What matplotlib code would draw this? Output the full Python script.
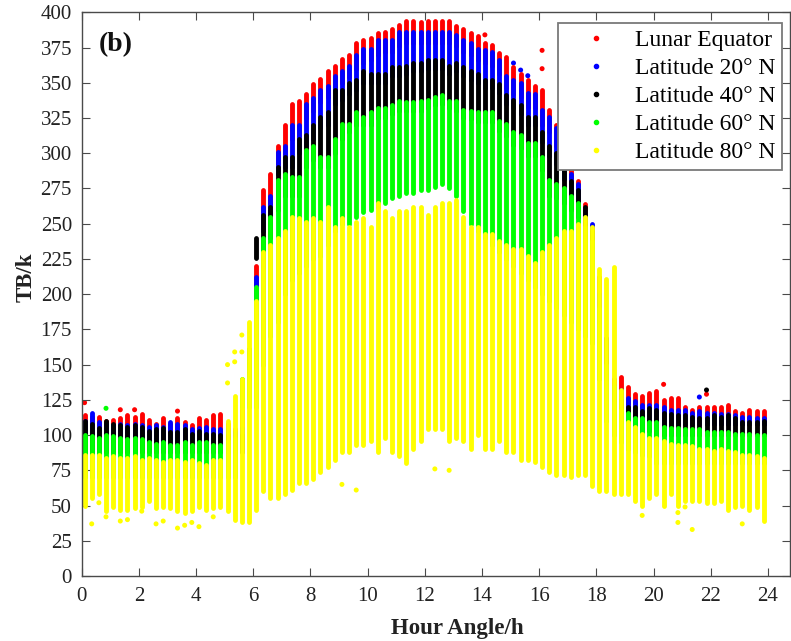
import numpy as np
import matplotlib
matplotlib.use("Agg")
import matplotlib.pyplot as plt
from matplotlib.lines import Line2D

plt.rcParams["font.family"] = ["Liberation Serif", "DejaVu Serif"]

# Hour-angle sampling grid (one column of samples every 0.25 h)
hour = np.round(0.1 + 0.25 * np.arange(96), 2)

labels = ["Lunar Equator", "Latitude 20° N", "Latitude 40° N",
          "Latitude 60° N", "Latitude 80° N"]
colors = ["#ff0000", "#0000ff", "#000000", "#00ff00", "#ffff00"]

# Brightness temperature range (K) per hour-angle column for each latitude
eq_max = [114, 113, 113, 110, 111, 112, 114, 113,
          115, 111, 108, 112, 108, 112, 109, 107,
          112, 111, 114, 115, 108, 104, 118, 161,
          220, 274, 285, 305, 320, 335, 337, 342,
          349, 353, 358, 362, 367, 370, 378, 380,
          382, 385, 386, 388, 391, 394, 394, 393,
          394, 394, 394, 394, 390, 388, 385, 383,
          378, 377, 371, 368, 361, 356, 352, 348,
          345, 331, 320, 300, 290, 280, 264, 246,
          212, 155, 140, 141, 134, 129, 128, 130,
          131, 125, 126, 126, 120, 118, 120, 120,
          120, 120, 121, 117, 116, 118, 117, 117]
eq_min = [100, 100, 100, 100, 100, 100, 100, 100,
          100, 100, 100, 100, 100, 100, 100, 100,
          100, 100, 100, 100, 100, 100, 100, 145,
          205, 255, 262, 292, 298, 310, 312, 325,
          330, 336, 340, 346, 350, 354, 360, 364,
          366, 370, 372, 372, 376, 378, 378, 378,
          378, 378, 378, 378, 376, 372, 370, 366,
          364, 362, 356, 346, 342, 340, 333, 332,
          320, 315, 305, 290, 275, 268, 245, 238,
          180, 140, 125, 110, 110, 108, 108, 108,
          108, 108, 108, 108, 108, 108, 108, 108,
          108, 108, 108, 108, 108, 108, 108, 108]

n20_max = [110, 116, 109, 108, 107, 108, 107, 108,
           107, 106, 107, 106, 109, 108, 107, 104,
           105, 106, 104, 104, 104, 102, 105, 157,
           212, 262, 270, 301, 305, 320, 320, 335,
           339, 345, 348, 355, 358, 362, 370, 374,
           374, 380, 380, 380, 386, 386, 386, 386,
           386, 386, 386, 386, 384, 380, 378, 374,
           373, 372, 366, 355, 352, 350, 343, 342,
           331, 326, 318, 300, 285, 278, 256, 250,
           200, 150, 135, 132, 126, 124, 121, 121,
           121, 120, 118, 118, 118, 116, 117, 116,
           116, 115, 115, 114, 113, 113, 112, 112]
n20_min = [96, 96, 96, 96, 96, 96, 96, 96,
           96, 96, 96, 96, 96, 96, 96, 96,
           96, 96, 96, 96, 96, 96, 96, 140,
           195, 245, 255, 285, 290, 290, 300, 305,
           310, 318, 320, 335, 338, 342, 345, 350,
           350, 350, 350, 355, 355, 356, 358, 358,
           360, 360, 360, 356, 358, 355, 352, 350,
           346, 346, 343, 335, 332, 328, 320, 320,
           308, 298, 292, 282, 272, 266, 255, 240,
           185, 140, 128, 115, 112, 112, 110, 110,
           108, 108, 108, 108, 108, 108, 108, 108,
           108, 108, 108, 108, 108, 108, 108, 108]

n40_max = [110, 108, 105, 110, 108, 107, 106, 107,
           106, 103, 104, 105, 102, 102, 104, 101,
           103, 101, 101, 100, 100, 98, 100, 150,
           240, 256, 262, 290, 297, 297, 310, 313,
           320, 326, 329, 345, 345, 350, 352, 358,
           356, 356, 356, 361, 361, 362, 364, 364,
           366, 366, 366, 362, 364, 361, 358, 356,
           352, 352, 349, 341, 338, 334, 326, 326,
           315, 305, 300, 290, 280, 274, 262, 245,
           190, 169, 135, 125, 120, 120, 117, 119,
           118, 116, 115, 114, 114, 113, 112, 112,
           114, 113, 114, 112, 109, 109, 109, 110]
n40_min = [88, 88, 88, 88, 88, 88, 88, 88,
           88, 88, 88, 88, 88, 88, 88, 88,
           88, 88, 88, 88, 88, 88, 88, 140,
           226, 220, 240, 260, 270, 270, 270, 290,
           295, 290, 290, 300, 310, 315, 320, 320,
           320, 325, 325, 328, 330, 330, 330, 330,
           332, 334, 335, 332, 330, 325, 324, 322,
           322, 322, 316, 312, 306, 304, 298, 298,
           288, 270, 268, 265, 260, 255, 240, 230,
           180, 140, 125, 110, 105, 105, 103, 103,
           100, 100, 100, 100, 100, 100, 100, 100,
           100, 100, 100, 100, 100, 100, 100, 100]

n60_max = [100, 99, 98, 100, 99, 98, 97, 98,
           97, 95, 94, 95, 93, 93, 95, 93,
           95, 95, 93, 93, 96, 98, 140, 161,
           205, 240, 255, 281, 285, 283, 283, 302,
           305, 297, 297, 310, 321, 321, 329, 326,
           329, 332, 332, 334, 337, 336, 336, 337,
           338, 340, 341, 337, 337, 331, 330, 329,
           329, 329, 323, 321, 315, 313, 307, 307,
           297, 281, 278, 275, 270, 265, 248, 238,
           190, 150, 135, 118, 116, 112, 112, 109,
           109, 106, 105, 105, 104, 104, 104, 102,
           102, 102, 102, 101, 101, 101, 100, 100]
n60_min = [70, 70, 70, 70, 70, 70, 70, 70,
           70, 70, 70, 70, 70, 70, 70, 70,
           70, 70, 70, 70, 70, 70, 120, 120,
           120, 150, 170, 180, 200, 210, 215, 220,
           225, 227, 235, 245, 250, 250, 255, 258,
           260, 262, 265, 268, 270, 272, 272, 274,
           274, 276, 278, 275, 270, 259, 250, 245,
           240, 235, 230, 225, 220, 215, 210, 205,
           200, 195, 190, 185, 180, 175, 170, 165,
           140, 110, 100, 95, 90, 88, 86, 85,
           80, 80, 80, 80, 80, 80, 80, 80,
           80, 80, 80, 80, 80, 80, 80, 80]

n80_max = [86, 86, 86, 84, 85, 84, 84, 85,
           82, 84, 82, 81, 82, 82, 81, 82,
           80, 79, 82, 82, 110, 128, 140, 180,
           195, 230, 235, 240, 245, 255, 254, 251,
           254, 251, 262, 248, 254, 248, 251, 254,
           248, 265, 259, 254, 259, 259, 262, 262,
           256, 262, 265, 265, 267, 255, 248, 248,
           243, 243, 238, 235, 232, 232, 227, 222,
           230, 235, 240, 245, 245, 250, 255, 248,
           218, 211, 219, 132, 109, 106, 101, 98,
           98, 96, 94, 93, 93, 92, 90, 90,
           89, 90, 89, 88, 86, 86, 85, 84]
n80_min = [50, 55, 58, 46, 49, 47, 47, 48,
           49, 53, 48, 49, 48, 46, 45, 46,
           49, 47, 48, 49, 46, 40, 38, 38,
           47, 60, 55, 55, 58, 61, 66, 66,
           69, 74, 77, 82, 88, 88, 93, 93,
           96, 88, 98, 88, 85, 80, 90, 96,
           104, 104, 104, 96, 98, 96, 90, 100,
           90, 90, 96, 88, 88, 82, 82, 81,
           77, 74, 72, 72, 70, 72, 72, 64,
           60, 60, 58, 58, 58, 53, 50, 55,
           58, 50, 58, 50, 53, 53, 53, 52,
           52, 53, 47, 49, 50, 47, 49, 39]

# Isolated samples lying outside the main columns (hour, K)
eq_out_h = [0.1, 1.35, 1.85, 3.35, 14.1, 16.1, 16.1, 20.35, 21.85]
eq_out_t = [123, 118, 118, 117, 384, 373, 360, 136, 129]
n20_out_h = [15.1, 15.35, 15.6, 21.6]
n20_out_t = [364, 359, 355, 127]
n40_out_h = [21.85]
n40_out_t = [132]
n60_out_h = [0.85]
n60_out_t = [119]
n80_out_h = [0.35, 0.6, 0.85, 1.35, 1.6, 2.1, 2.6, 2.85, 3.35, 3.6, 3.85,
             4.1, 4.6, 5.1, 5.1, 5.35, 5.35, 5.6, 5.6, 9.1, 9.6, 12.35,
             12.85, 19.6, 20.85, 20.85, 21.1, 21.35, 23.1]
n80_out_t = [37, 52, 42, 39, 40, 46, 37, 39, 34, 36, 38,
             35, 42, 150, 137, 159, 152, 171, 159, 65, 61, 76,
             75, 43, 45, 38, 49, 33, 37]

series = [
    (eq_min, eq_max, eq_out_h, eq_out_t),
    (n20_min, n20_max, n20_out_h, n20_out_t),
    (n40_min, n40_max, n40_out_h, n40_out_t),
    (n60_min, n60_max, n60_out_h, n60_out_t),
    (n80_min, n80_max, n80_out_h, n80_out_t),
]

fig = plt.figure(figsize=(7.91, 6.41), dpi=100)
ax = fig.add_axes([81.7 / 791, 65 / 641, (790 - 81.7) / 791, (576 - 12.3) / 641])

for (lo, hi, oh, ot), c in zip(series, colors):
    ax.vlines(hour, lo, hi, colors=c, linewidth=3.5, capstyle="round")
    ax.scatter(oh, ot, s=13, color=c, edgecolors="none")

ax.set_xlim(0, 24.77)
ax.set_ylim(0, 400)
ax.set_xticks(np.arange(0, 25, 2))
ax.set_yticks(np.arange(0, 401, 25))

spine_c = "#4a4a4a"
for s in ax.spines.values():
    s.set_color(spine_c)
    s.set_linewidth(1.0)
ax.tick_params(direction="in", length=6, width=0.8, color=spine_c,
               top=True, right=True, labelsize=15, labelcolor="#222222")
ax.tick_params(axis="x", pad=8)
ax.tick_params(axis="y", pad=7)

ax.set_xlabel("Hour Angle/h", fontsize=16.5, fontweight="bold", color="#222222")
ax.set_ylabel("TB/k", fontsize=16.5, fontweight="bold", color="#222222")
ax.yaxis.set_label_coords(-0.064, 0.53)
ax.xaxis.set_label_coords(0.53, -0.075)

ax.text(0.024, 0.943, "(b)", transform=ax.transAxes, fontsize=20,
        fontweight="bold", va="center", ha="left", color="#111111")

handles = [Line2D([], [], linestyle="none", marker=".", markersize=6,
                  color=c) for c in colors]
leg = ax.legend(handles, labels, loc="upper right",
                bbox_to_anchor=(0.989, 0.9816), borderaxespad=0,
                fontsize=17, frameon=True, fancybox=False, framealpha=1,
                edgecolor="#7a7a7a", borderpad=0.3, labelspacing=0.27,
                handlelength=2.6, handletextpad=0.35, numpoints=1)
leg.get_frame().set_linewidth(1.3)

fig.savefig("out.png", dpi=100)
